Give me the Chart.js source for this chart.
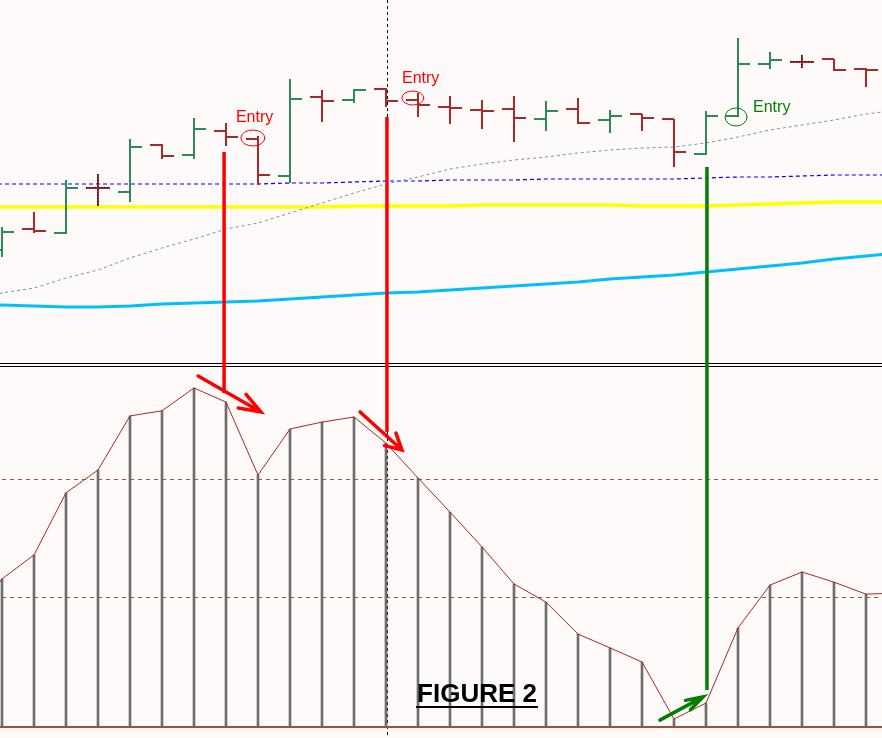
<!DOCTYPE html>
<html>
<head>
<meta charset="utf-8">
<script src="https://cdn.jsdelivr.net/npm/chart.js@4.4.1/dist/chart.umd.min.js"></script>
<style>
  html, body { margin: 0; padding: 0; background: #FFFAFA; }
  canvas { display: block; }
</style>
</head>
<body>
<canvas id="chart" width="882" height="738"></canvas>
<script>
// price bars (bar index 0..27)
const barIdx = [0,1,2,3,4,5,6,7,8,9,10,11,12,13,14,15,16,17,18,19,20,21,22,23,24,25,26,27];
const openP  = [1.2750,1.2771,1.2767,1.2812,1.2808,1.2855,1.2845,1.2869,1.2861,1.2824,1.2903,1.2900,1.2911,1.2900,
                1.2893,1.2890,1.2891,1.2881,1.2891,1.2880,1.2886,1.2881,1.2846,1.2884,1.2936,1.2938,1.2941,1.2931];
const highP  = [1.2773,1.2788,1.2820,1.2826,1.2861,1.2856,1.2882,1.2877,1.2864,1.2921,1.2910,1.2911,1.2912,1.2907,
                1.2904,1.2900,1.2904,1.2899,1.2902,1.2890,1.2886,1.2881,1.2889,1.2962,1.2948,1.2945,1.2941,1.2932];
const lowP   = [1.2743,1.2767,1.2766,1.2794,1.2798,1.2841,1.2841,1.2854,1.2815,1.2817,1.2878,1.2897,1.2893,1.2883,
                1.2876,1.2871,1.2858,1.2869,1.2876,1.2867,1.2869,1.2833,1.2845,1.2883,1.2931,1.2932,1.2929,1.2913];
const closeP = [1.2768,1.2769,1.2812,1.2812,1.2853,1.2844,1.2871,1.2863,1.2825,1.2901,1.2899,1.2910,1.2899,1.2895,
                1.2892,1.2889,1.2882,1.2889,1.2877,1.2884,1.2882,1.2848,1.2884,1.2936,1.2940,1.2938,1.2930,1.2930];

// moving averages (bar index -1..28)
const maIdx = [-1,0,1,2,3,4,5,6,7,8,9,10,11,12,13,14,15,16,17,18,19,20,21,22,23,24,25,26,27,28];
const maTeal = [1.2700,1.2707,1.2712,1.2722,1.2730,1.2742,1.2752,1.2761,1.2771,1.2777,1.2787,1.2797,1.2807,1.2816,1.2823,
                1.2831,1.2836,1.2840,1.2843,1.2847,1.2850,1.2852,1.2853,1.2857,1.2863,1.2870,1.2875,1.2880,1.2886,1.2890];
const maBlue = [1.2816,1.2816,1.2816,1.2816,1.2816,1.2816,1.2816,1.2816,1.2816,1.2816,1.2817,1.2817,1.2818,1.2819,1.2819,
                1.2820,1.2820,1.2820,1.2821,1.2821,1.2821,1.2821,1.2821,1.2822,1.2823,1.2823,1.2824,1.2825,1.2825,1.2825];
const maYellow = [1.2793,1.2793,1.2793,1.2793,1.2793,1.2793,1.2793,1.2793,1.2793,1.2793,1.2793,1.2793,1.2794,1.2794,1.2794,
                  1.2794,1.2795,1.2795,1.2795,1.2795,1.2795,1.2794,1.2794,1.2794,1.2795,1.2796,1.2797,1.2798,1.2798,1.2798];
const maCyan = [1.2695,1.2695,1.2694,1.2693,1.2693,1.2694,1.2696,1.2697,1.2698,1.2699,1.2701,1.2703,1.2705,1.2707,1.2708,
                1.2710,1.2712,1.2714,1.2716,1.2718,1.2721,1.2723,1.2725,1.2728,1.2731,1.2734,1.2737,1.2741,1.2744,1.2747];

// oscillator (bar index -1..28)
const oscVal = [28.0,40.8,47.4,64.5,70.8,85.7,87.1,93.4,89.5,69.4,82.1,84.0,85.4,78.2,68.6,
                59.2,49.6,39.4,34.4,25.6,21.8,17.9,2.2,6.6,27.3,39.1,42.7,39.9,36.6,36.9];
const oscLevels = [68.18, 35.68];

// annotations: x in bar units, top in price, bottom in oscillator units
const signalLines = [
  { x: 6.94, price: 1.2848, osc: 92.0, color: '#FF0000' },
  { x: 12.03, price: 1.2883, osc: 81.3, color: '#FF0000' },
  { x: 22.03, price: 1.2833, osc: 10.2, color: '#008000' }
];
const arrows = [
  { x1: 6.13, o1: 96.7, x2: 8.09, o2: 86.8, color: '#FF0000', head: 23, spread: 20 },
  { x1: 11.19, o1: 86.8, x2: 12.50, o2: 76.3, color: '#FF0000', head: 18, spread: 28 },
  { x1: 20.56, o1: 1.9, x2: 21.91, o2: 8.3, color: '#008000', head: 18, spread: 17 }
];
const circles = [
  { x: 7.84, price: 1.2862, rx: 12, ry: 8, color: '#FF0000' },
  { x: 12.84, price: 1.2902, rx: 11, ry: 7, color: '#FF0000' },
  { x: 22.94, price: 1.2883, rx: 11, ry: 9, color: '#008000' }
];
const entryLabels = [
  { text: 'Entry', x: 7.31, price: 1.2878, color: '#FF0000' },
  { text: 'Entry', x: 12.50, price: 1.2917, color: '#FF0000' },
  { text: 'Entry', x: 23.47, price: 1.2888, color: '#008000' }
];
const cursorX = 12.02;

const xy = (xs, ys) => xs.map((x, i) => ({ x: x, y: ys[i] }));

const backgroundPlugin = {
  id: 'bg',
  beforeDraw(chart) {
    const { ctx, width, height } = chart;
    ctx.save();
    ctx.fillStyle = '#FFFAFA';
    ctx.fillRect(0, 0, width, height);
    // crosshair
    const cx = Math.round(chart.scales.x.getPixelForValue(cursorX)) + 0.5;
    ctx.strokeStyle = '#000';
    ctx.lineWidth = 1;
    ctx.setLineDash([3, 3]);
    ctx.beginPath();
    ctx.moveTo(cx, 0);
    ctx.lineTo(cx, height);
    ctx.stroke();
    ctx.setLineDash([]);
    // panel separator
    ctx.beginPath();
    ctx.moveTo(0, 363.5); ctx.lineTo(width, 363.5);
    ctx.moveTo(0, 366.5); ctx.lineTo(width, 366.5);
    ctx.stroke();
    ctx.restore();
  }
};

const ohlcPlugin = {
  id: 'ohlc',
  afterDatasetsDraw(chart) {
    const { ctx, scales: { x, yTop } } = chart;
    ctx.save();
    ctx.lineWidth = 2;
    barIdx.forEach((b, i) => {
      const px = Math.round(x.getPixelForValue(b));
      const yO = Math.round(yTop.getPixelForValue(openP[i]));
      const yH = Math.round(yTop.getPixelForValue(highP[i]));
      const yL = Math.round(yTop.getPixelForValue(lowP[i]));
      const yC = Math.round(yTop.getPixelForValue(closeP[i]));
      ctx.strokeStyle = closeP[i] > openP[i] ? '#2E8B57' : '#A52A2A';
      ctx.beginPath();
      ctx.moveTo(px, yH); ctx.lineTo(px, yL);
      ctx.moveTo(px - 12, yO); ctx.lineTo(px, yO);
      ctx.moveTo(px, yC); ctx.lineTo(px + 12, yC);
      ctx.stroke();
      if (closeP[i] === openP[i]) {
        ctx.save();
        ctx.strokeStyle = '#000';
        ctx.lineWidth = 1;
        ctx.setLineDash([1, 2]);
        ctx.beginPath();
        ctx.moveTo(px - 0.5, yH); ctx.lineTo(px - 0.5, yL);
        ctx.moveTo(px - 12, yO - 0.5); ctx.lineTo(px + 12, yO - 0.5);
        ctx.stroke();
        ctx.restore();
      }
    });
    ctx.restore();
  }
};

const annotationPlugin = {
  id: 'notes',
  afterDraw(chart) {
    const { ctx, scales: { x, yTop, yBot } } = chart;
    ctx.save();

    signalLines.forEach(s => {
      const px = x.getPixelForValue(s.x);
      ctx.strokeStyle = s.color;
      ctx.lineWidth = 3.5;
      ctx.lineCap = 'butt';
      ctx.beginPath();
      ctx.moveTo(px, yTop.getPixelForValue(s.price));
      ctx.lineTo(px, yBot.getPixelForValue(s.osc));
      ctx.stroke();
    });

    ctx.lineCap = 'round';
    arrows.forEach(a => {
      const x1 = x.getPixelForValue(a.x1), y1 = yBot.getPixelForValue(a.o1);
      const x2 = x.getPixelForValue(a.x2), y2 = yBot.getPixelForValue(a.o2);
      const back = Math.atan2(y1 - y2, x1 - x2);
      const sp = a.spread * Math.PI / 180;
      ctx.strokeStyle = a.color;
      ctx.lineWidth = 3.5;
      ctx.beginPath();
      ctx.moveTo(x1, y1); ctx.lineTo(x2, y2);
      ctx.moveTo(x2 + a.head * Math.cos(back + sp), y2 + a.head * Math.sin(back + sp));
      ctx.lineTo(x2, y2);
      ctx.lineTo(x2 + a.head * Math.cos(back - sp), y2 + a.head * Math.sin(back - sp));
      ctx.stroke();
    });

    circles.forEach(c => {
      ctx.strokeStyle = c.color;
      ctx.lineWidth = 1;
      ctx.beginPath();
      ctx.ellipse(x.getPixelForValue(c.x), yTop.getPixelForValue(c.price), c.rx, c.ry, 0, 0, Math.PI * 2);
      ctx.stroke();
    });

    ctx.font = '16px "Liberation Sans", Arial, sans-serif';
    ctx.textAlign = 'left';
    ctx.textBaseline = 'alphabetic';
    entryLabels.forEach(e => {
      ctx.fillStyle = e.color;
      ctx.fillText(e.text, x.getPixelForValue(e.x), yTop.getPixelForValue(e.price));
    });

    // caption
    ctx.fillStyle = '#000';
    ctx.font = 'bold 26px "Liberation Sans", Arial, sans-serif';
    ctx.textAlign = 'center';
    const cap = 'FIGURE 2';
    const w = ctx.measureText(cap).width;
    ctx.fillText(cap, 477, 702);
    ctx.fillRect(477 - w / 2 - 1, 706, w + 2, 2);
    ctx.restore();
  }
};

const lvl = v => [{ x: -1, y: v }, { x: 29, y: v }];

new Chart(document.getElementById('chart'), {
  data: {
    datasets: [
      { type: 'line', data: xy(maIdx, maTeal), yAxisID: 'yTop', borderColor: '#5F9EA0', borderWidth: 1, borderDash: [3, 3], pointRadius: 0, order: 5 },
      { type: 'line', data: xy(maIdx, maBlue), yAxisID: 'yTop', borderColor: '#0000FF', borderWidth: 1.2, borderDash: [4, 3], pointRadius: 0, order: 5 },
      { type: 'line', data: xy(maIdx, maYellow), yAxisID: 'yTop', borderColor: '#FFFF00', borderWidth: 3.5, pointRadius: 0, order: 5 },
      { type: 'line', data: xy(maIdx, maCyan), yAxisID: 'yTop', borderColor: '#00BFFF', borderWidth: 3, pointRadius: 0, order: 5 },
      { type: 'line', data: lvl(oscLevels[0]), yAxisID: 'yBot', borderColor: '#A0522D', borderWidth: 1, borderDash: [4, 4], pointRadius: 0, order: 4 },
      { type: 'line', data: lvl(oscLevels[1]), yAxisID: 'yBot', borderColor: '#A0522D', borderWidth: 1, borderDash: [4, 4], pointRadius: 0, order: 4 },
      { type: 'bar', data: xy(maIdx, oscVal), yAxisID: 'yBot', backgroundColor: '#6E6E6E', barThickness: 2, borderWidth: 0, order: 3 },
      { type: 'line', data: xy(maIdx, oscVal), yAxisID: 'yBot', borderColor: '#A52A2A', borderWidth: 1, pointRadius: 0, order: 2 },
      { type: 'line', data: lvl(0), yAxisID: 'yBot', borderColor: '#A0522D', borderWidth: 2, pointRadius: 0, order: 1 }
    ]
  },
  options: {
    responsive: false,
    animation: false,
    events: [],
    layout: { padding: 0 },
    plugins: { legend: { display: false }, tooltip: { enabled: false } },
    scales: {
      x: { type: 'linear', min: -0.0625, max: 27.5, offset: false, display: false },
      yTop: { type: 'linear', min: 1.2262, max: 1.3000, display: false },
      yBot: { type: 'linear', min: -3.03, max: 200.28, display: false }
    }
  },
  plugins: [backgroundPlugin, ohlcPlugin, annotationPlugin]
});
</script>
</body>
</html>
